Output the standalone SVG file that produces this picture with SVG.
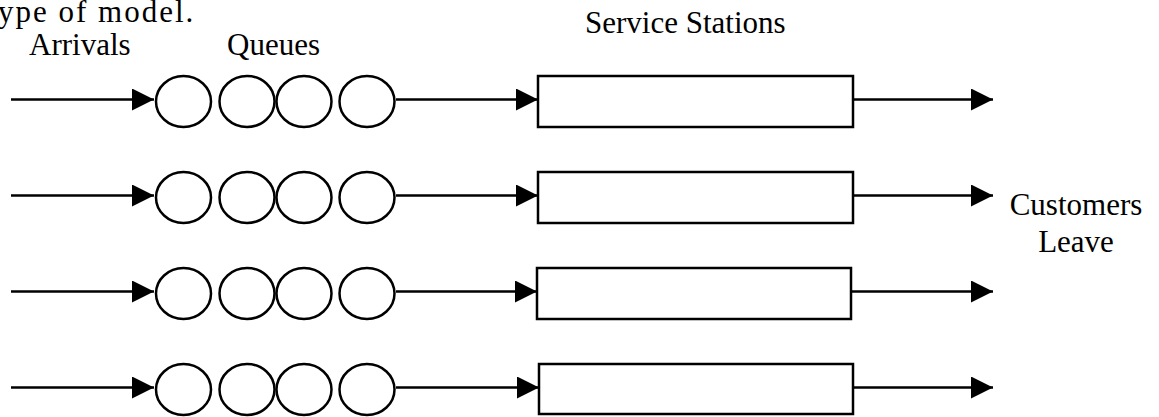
<svg xmlns="http://www.w3.org/2000/svg" width="1159" height="417" viewBox="0 0 1159 417">
  <style>
    .lbl { font-family: "Liberation Serif", "Times New Roman", serif; font-size: 31px; fill: #000; }
    .q { fill: #fff; stroke: #000; stroke-width: 2.5; }
    .st { fill: #fff; stroke: #000; stroke-width: 2.5; }
    .ln { stroke: #000; stroke-width: 2.5; fill: none; marker-end: url(#arr); }
  </style>
  <defs>
    <marker id="arr" markerUnits="userSpaceOnUse" markerWidth="22" markerHeight="22" refX="22" refY="11" orient="auto" viewBox="0 0 22 22">
      <path d="M0,0 L22,11 L0,22 z" fill="#000"/>
    </marker>
  </defs>

  <rect width="1159" height="417" fill="#fff"/>

  <!-- captions -->
  <text class="lbl" x="-2" y="22" letter-spacing="2">ype of model.</text>
  <text class="lbl" x="29" y="55">Arrivals</text>
  <text class="lbl" x="227" y="55">Queues</text>
  <text class="lbl" x="585" y="33">Service Stations</text>
  <text class="lbl" x="1076" y="215" text-anchor="middle">Customers</text>
  <text class="lbl" x="1076" y="252" text-anchor="middle">Leave</text>

  <!-- connectors -->
  <g id="connectors">
    <path class="ln" d="M11,99.5 H154"/>
    <path class="ln" d="M396,99.5 H538"/>
    <path class="ln" d="M853,99.5 H993"/>

    <path class="ln" d="M11,195.5 H154"/>
    <path class="ln" d="M396,195.5 H538"/>
    <path class="ln" d="M853,195.5 H993"/>

    <path class="ln" d="M11,291.5 H154"/>
    <path class="ln" d="M396,291.5 H537"/>
    <path class="ln" d="M851,291.5 H993"/>

    <path class="ln" d="M11,387.5 H154"/>
    <path class="ln" d="M396,387.5 H539"/>
    <path class="ln" d="M853,387.5 H993"/>
  </g>

  <!-- queue lines -->
  <g id="queue1">
    <ellipse class="q" cx="183.5" cy="101.5" rx="27.5" ry="25.5"/>
    <ellipse class="q" cx="247" cy="101.5" rx="27.5" ry="25.5"/>
    <ellipse class="q" cx="304" cy="101.5" rx="27.5" ry="25.5"/>
    <ellipse class="q" cx="367" cy="101.5" rx="27.5" ry="25.5"/>
  </g>
  <g id="queue2">
    <ellipse class="q" cx="183.5" cy="197.5" rx="27.5" ry="25.5"/>
    <ellipse class="q" cx="247" cy="197.5" rx="27.5" ry="25.5"/>
    <ellipse class="q" cx="304" cy="197.5" rx="27.5" ry="25.5"/>
    <ellipse class="q" cx="367" cy="197.5" rx="27.5" ry="25.5"/>
  </g>
  <g id="queue3">
    <ellipse class="q" cx="183.5" cy="293.5" rx="27.5" ry="25.5"/>
    <ellipse class="q" cx="247" cy="293.5" rx="27.5" ry="25.5"/>
    <ellipse class="q" cx="304" cy="293.5" rx="27.5" ry="25.5"/>
    <ellipse class="q" cx="367" cy="293.5" rx="27.5" ry="25.5"/>
  </g>
  <g id="queue4">
    <ellipse class="q" cx="183.5" cy="389.5" rx="27.5" ry="25.5"/>
    <ellipse class="q" cx="247" cy="389.5" rx="27.5" ry="25.5"/>
    <ellipse class="q" cx="304" cy="389.5" rx="27.5" ry="25.5"/>
    <ellipse class="q" cx="367" cy="389.5" rx="27.5" ry="25.5"/>
  </g>

  <!-- service stations -->
  <g id="station1"><rect class="st" x="538" y="76" width="315" height="51"/></g>
  <g id="station2"><rect class="st" x="538" y="172" width="315" height="51"/></g>
  <g id="station3"><rect class="st" x="537" y="268" width="314" height="51"/></g>
  <g id="station4"><rect class="st" x="539" y="364" width="314" height="50"/></g>
</svg>
